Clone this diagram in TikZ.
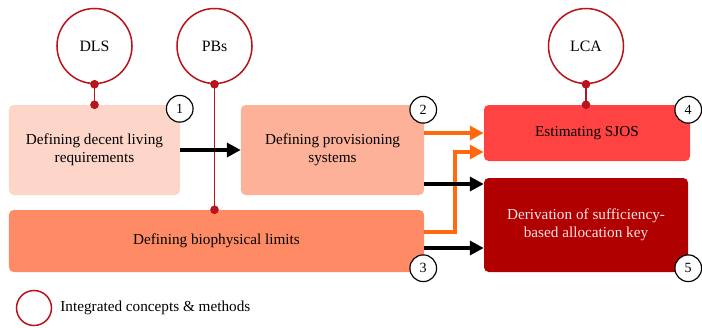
\documentclass[tikz,border=0pt]{standalone}
\usepackage{fontspec}
\setmainfont{Liberation Serif}
\usetikzlibrary{arrows.meta,positioning,calc}
\definecolor{Blush}{HTML}{FDD6C9}
\definecolor{Salmon}{HTML}{FCB198}
\definecolor{Coral}{HTML}{FF8B66}
\definecolor{Scarlet}{HTML}{FF4343}
\definecolor{Crimson}{HTML}{B00000}
\definecolor{ConceptRed}{HTML}{B8141B}
\definecolor{Feed}{HTML}{FF6A10}
\definecolor{PaleText}{HTML}{FDE4E4}

\begin{document}
\begin{tikzpicture}[
      x=0.03cm,y=-0.03cm,
      stepcard/.style={
        rounded corners=4pt,
        inner sep=4pt,
        align=center,
        font=\fontsize{13}{15.5}\selectfont
      },
      concept/.style={
        circle,
        draw=ConceptRed,
        line width=1.3pt,
        fill=white,
        minimum size=2.25cm,
        font=\fontsize{13.5}{15}\selectfont
      },
      badge/.style={
        circle,
        draw=black,
        line width=1pt,
        fill=white,
        minimum size=0.8cm,
        inner sep=0pt,
        font=\fontsize{12}{14}\selectfont
      },
      link/.style={draw=ConceptRed,line width=1.3pt},
      knot/.style={circle,fill=ConceptRed,inner sep=0pt,minimum size=0.26cm},
      flow/.style={line width=3.4pt,-{Triangle[length=0.42cm,width=0.42cm]}}
    ]
      \useasboundingbox (0,0) rectangle (702,327);

      % process steps
      \node[stepcard,fill=Blush,minimum width=5.13cm,minimum height=2.7cm] (dlsreq) at (94.5,150)
        {Defining decent living\\requirements};
      \node[stepcard,fill=Salmon,minimum width=5.49cm,minimum height=2.7cm] (provision) at (332.5,150)
        {Defining provisioning\\systems};
      \node[stepcard,fill=Coral,minimum width=12.45cm,minimum height=1.86cm] (limits) at (216.5,241)
        {Defining biophysical limits};
      \node[stepcard,fill=Scarlet,minimum width=6.18cm,minimum height=1.68cm] (sjos) at (587,133)
        {Estimating SJOS};
      \node[stepcard,fill=Crimson,text=PaleText,minimum width=6.12cm,minimum height=2.82cm] (allockey) at (586,225)
        {Derivation of sufficiency-\\based allocation key};

      % integrated concepts
      \node[concept] (dls) at (94.5,46) {DLS};
      \node[concept] (pbs) at (214.5,46) {PBs};
      \node[concept] (lca) at (586,46) {LCA};

      \draw[link] (dls.south) node[knot] {} -- (dlsreq.north) node[knot] {};
      \draw[link] (pbs.south) node[knot] {} -- (pbs.south |- limits.north) node[knot] {};
      \draw[link] (lca.south) node[knot] {} -- (lca.south |- sjos.north) node[knot] {};

      % flows
      \draw[flow] (dlsreq.east) -- (provision.west);
      \draw[flow,Feed] (provision.east |- sjos.west) -- (sjos.west);
      \draw[flow,Feed] ($(limits.east)+(0,-9)$) -| ($(sjos.west)+(-29,19)$) -- ($(sjos.west)+(0,19)$);
      \draw[flow] ($(provision.east)+(0,34)$) -- ($(allockey.west)+(0,-41)$);
      \draw[flow] ($(limits.east)+(0,7)$) -- ($(allockey.west)+(0,23)$);

      % step numbers
      \node[badge] (n1) at ($(dlsreq.north east)+(-0.5,4)$) {1};
      \node[badge] (n2) at ($(provision.north east)+(-1,5)$) {2};
      \node[badge] (n3) at ($(limits.south east)+(-1,-4)$) {3};
      \node[badge] (n4) at ($(sjos.north east)+(-2,5)$) {4};
      \node[badge] (n5) at ($(allockey.south east)+(0,-4)$) {5};

      % legend
      \node[circle,draw=ConceptRed,line width=1.3pt,minimum size=1.05cm] (legend) at (34,308) {};
      \node[right=0.12cm of legend,font=\fontsize{13}{15}\selectfont] (legendtext) {Integrated concepts \& methods};
    \end{tikzpicture}
\end{document}
